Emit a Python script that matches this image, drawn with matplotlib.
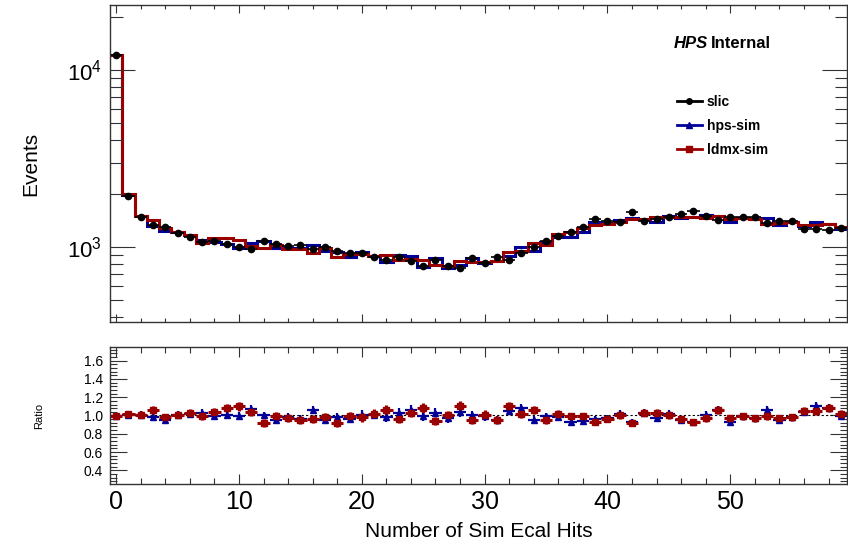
import numpy as np
import matplotlib
matplotlib.use("Agg")
import matplotlib.pyplot as plt
from matplotlib.lines import Line2D
from matplotlib.ticker import MultipleLocator, LogLocator, NullFormatter

plt.rcParams['font.family'] = ['Liberation Sans', 'DejaVu Sans']
plt.rcParams['mathtext.fontset'] = 'custom'
plt.rcParams['mathtext.rm'] = 'Liberation Sans'

# number of sim ecal hits per event (bins 0..59)
slic = [12150, 1950, 1480, 1340, 1300, 1200, 1140, 1065, 1075, 1035,
        995, 980, 1075, 1035, 1010, 1025, 970, 1005, 955, 920,
        930, 875, 845, 875, 835, 780, 845, 780, 758, 865,
        815, 880, 850, 930, 995, 1080, 1155, 1220, 1300, 1435,
        1410, 1390, 1570, 1405, 1435, 1470, 1535, 1595, 1495, 1420,
        1485, 1470, 1485, 1370, 1405, 1405, 1260, 1260, 1245, 1275]
hps_sim = [12100, 1970, 1495, 1313, 1235, 1212, 1163, 1097, 1064, 1045,
           985, 1049, 1075, 983, 990, 984, 1028, 955, 936, 883,
           939, 884, 828, 901, 885, 772, 870, 757, 788, 865,
           807, 836, 893, 1004, 945, 1069, 1132, 1135, 1222, 1378,
           1368, 1418, 1460, 1447, 1392, 1499, 1458, 1483, 1510, 1505,
           1381, 1455, 1440, 1452, 1335, 1377, 1310, 1386, 1345, 1262]
ldmx_sim = [12100, 1990, 1495, 1420, 1274, 1212, 1174, 1054, 1118, 1118,
            1095, 1019, 989, 1025, 980, 974, 931, 985, 879, 910,
            911, 893, 896, 840, 860, 842, 794, 780, 834, 822,
            823, 836, 935, 949, 1055, 1026, 1178, 1208, 1287, 1335,
            1354, 1390, 1444, 1447, 1478, 1470, 1474, 1483, 1450, 1505,
            1440, 1455, 1440, 1356, 1363, 1377, 1323, 1323, 1345, 1300]

BLUE = '#000099'
RED = '#990000'

slic = np.array(slic, float)
hps_sim = np.array(hps_sim, float)
ldmx_sim = np.array(ldmx_sim, float)
x = np.arange(len(slic))
edges = np.arange(len(slic) + 1) - 0.5

fig = plt.figure(figsize=(8.48, 5.42), dpi=100)
ax = fig.add_axes([0.1297, 0.4059, 0.8691, 0.5849])
rax = fig.add_axes([0.1297, 0.107, 0.8691, 0.2528], sharex=ax)

# main panel
ax.stairs(hps_sim, edges, baseline=None, color=BLUE, lw=2.2)
ax.stairs(ldmx_sim, edges, baseline=None, color=RED, lw=2.2)
ax.errorbar(x, slic, yerr=np.sqrt(slic), xerr=0.5, fmt='o', color='black',
            ms=4.5, lw=1.2, capsize=0)
ax.set_yscale('log')
ax.set_ylim(377, 23300)
ax.set_xlim(-0.5, 59.5)
ax.set_ylabel('Events', fontsize=15)
ax.yaxis.set_label_coords(-0.095, 0.5)
ax.tick_params(axis='x', labelbottom=False)

handles = [Line2D([], [], color='black', marker='o', ms=4, lw=2),
           Line2D([], [], color=BLUE, marker='^', ms=4, lw=2),
           Line2D([], [], color=RED, marker='s', ms=4, lw=2)]
ax.legend(handles, ['slic', 'hps-sim', 'ldmx-sim'], loc='upper left',
          bbox_to_anchor=(0.752, 0.755), frameon=False, handlelength=1.8,
          handletextpad=0.35, labelspacing=0.7,
          prop={'weight': 'bold', 'size': 10})
ax.text(0.765, 0.865, 'HPS', transform=ax.transAxes, fontsize=12,
        fontweight='bold', style='italic', va='baseline')
ax.text(0.815, 0.865, 'Internal', transform=ax.transAxes, fontsize=12,
        fontweight='bold', va='baseline')

# ratio panel
r_hps = hps_sim / slic
r_ldmx = ldmx_sim / slic
e_hps = r_hps * np.sqrt(1 / hps_sim + 1 / slic)
e_ldmx = r_ldmx * np.sqrt(1 / ldmx_sim + 1 / slic)
rax.axhline(1.0, color='black', ls=(0, (2, 2)), lw=0.8)
rax.errorbar(x, r_hps, yerr=e_hps, xerr=0.5, fmt='^', color=BLUE, ms=4,
             lw=1.6, ls='none', capsize=0)
rax.errorbar(x, r_ldmx, yerr=e_ldmx, xerr=0.5, fmt='s', color=RED, ms=5,
             lw=2.2, ls='none', capsize=0)
rax.set_ylim(0.25, 1.75)
rax.set_xlim(-0.5, 59.5)
rax.set_ylabel('Ratio', fontsize=8)
rax.yaxis.set_label_coords(-0.09, 0.5)
rax.set_xlabel('Number of Sim Ecal Hits', fontsize=15, labelpad=6)
rax.set_yticks([0.4, 0.6, 0.8, 1.0, 1.2, 1.4, 1.6])
rax.yaxis.set_minor_locator(MultipleLocator(0.04))

for a in (ax, rax):
    a.xaxis.set_major_locator(MultipleLocator(10))
    a.xaxis.set_minor_locator(MultipleLocator(2))
    a.tick_params(which='both', direction='in', top=True, right=True,
                  color='#333333', width=0.8)
    for s in a.spines.values():
        s.set_linewidth(1.0)
        s.set_color('#333333')

ax.yaxis.set_major_locator(LogLocator(base=10))
ax.yaxis.set_minor_locator(LogLocator(base=10, subs=np.arange(2, 10)))
ax.yaxis.set_minor_formatter(NullFormatter())
ax.tick_params(axis='y', which='major', length=18, labelsize=16, pad=6)
ax.tick_params(axis='y', which='minor', length=9)
ax.tick_params(axis='x', which='major', length=6)
ax.tick_params(axis='x', which='minor', length=3)
rax.tick_params(axis='y', which='major', length=12, labelsize=10, pad=5)
rax.tick_params(axis='y', which='minor', length=5)
rax.tick_params(axis='x', which='major', length=7, labelsize=18, pad=4)
rax.tick_params(axis='x', which='minor', length=4)

fig.savefig('out.png', dpi=100)
